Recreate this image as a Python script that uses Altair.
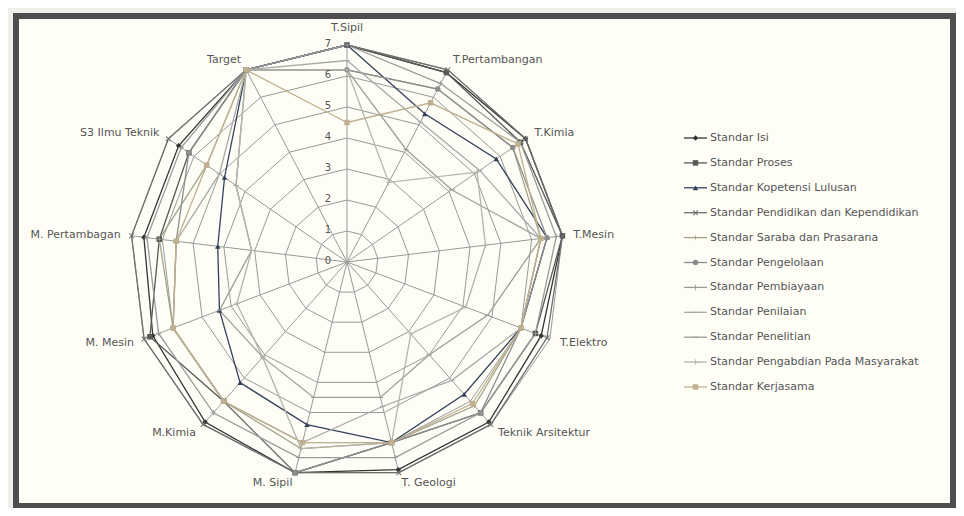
import altair as alt
import pandas as pd

# ---------------- data ----------------
categories = ["T.Sipil", "T.Pertambangan", "T.Kimia", "T.Mesin", "T.Elektro",
              "Teknik Arsitektur", "T. Geologi", "M. Sipil", "M.Kimia", "M. Mesin",
              "M. Pertambagan", "S3 Ilmu Teknik", "Target"]

series_names = ["Standar Isi", "Standar Proses", "Standar Kopetensi Lulusan",
                "Standar Pendidikan dan Kependidikan", "Standar Saraba dan Prasarana",
                "Standar Pengelolaan", "Standar Pembiayaan", "Standar Penilaian",
                "Standar Penelitian", "Standar Pengabdian Pada Masyarakat",
                "Standar Kerjasama"]

isi         = [7.0, 6.9, 7.0, 7.0, 6.7, 6.9, 6.9, 7.0, 6.9, 6.7, 6.6, 6.6, 7.0]
proses      = [7.0, 6.9, 6.8, 7.0, 6.5, 6.5, 6.0, 7.0, 6.0, 6.8, 6.1, 6.2, 7.0]
kompetensi  = [7.0, 5.4, 5.85, 6.5, 6.0, 5.7, 6.0, 5.4, 5.2, 4.4, 4.2, 4.8, 7.0]
pendidikan  = [7.0, 7.0, 7.0, 7.0, 6.9, 7.0, 7.0, 7.0, 7.0, 7.0, 7.0, 7.0, 7.0]
sarana      = [6.2, 6.3, 6.5, 6.3, 6.0, 6.2, 6.0, 6.2, 6.0, 6.0, 6.1, 5.5, 7.0]
pengelolaan = [6.2, 6.3, 6.5, 6.5, 6.0, 6.5, 6.0, 7.0, 6.0, 6.0, 5.55, 6.2, 7.0]
pembiayaan  = [7.0, 6.5, 6.8, 6.8, 6.5, 6.5, 6.5, 6.5, 6.5, 6.5, 6.5, 6.5, 7.0]
penilaian   = [6.5, 5.1, 5.2, 6.3, 6.0, 5.1, 4.8, 6.0, 6.0, 6.0, 5.55, 5.0, 7.0]
penelitian  = [6.2, 4.1, 4.1, 6.3, 4.85, 4.0, 4.5, 4.5, 4.1, 4.4, 3.1, 4.35, 7.0]
pengabdian  = [6.2, 2.9, 5.1, 4.5, 4.1, 3.1, 6.0, 6.2, 4.1, 3.8, 3.1, 4.35, 7.0]
kerjasama   = [4.5, 5.8, 6.7, 6.3, 6.0, 6.1, 6.0, 6.0, 6.0, 6.0, 5.55, 5.5, 7.0]

all_values = [isi, proses, kompetensi, pendidikan, sarana, pengelolaan,
              pembiayaan, penilaian, penelitian, pengabdian, kerjasama]

tick_values = [0, 1, 2, 3, 4, 5, 6, 7]

# ---------------- styles ----------------
colors = ["#333333", "#555a55", "#34415a", "#6e6e6e", "#a3a38a", "#8c8c8c",
          "#9a9a9a", "#a8a8a8", "#9e9e96", "#b4b4aa", "#c0b090"]
XPATH = "M-1,-0.75L-0.75,-1L0,-0.25L0.75,-1L1,-0.75L0.25,0L1,0.75L0.75,1L0,0.25L-0.75,1L-1,0.75L-0.25,0Z"
STAR = "M0,-1L0.22,-0.22L1,0L0.22,0.22L0,1L-0.22,0.22L-1,0L-0.22,-0.22Z"
PLUS = "M-0.15,-1L0.15,-1L0.15,-0.15L1,-0.15L1,0.15L0.15,0.15L0.15,1L-0.15,1L-0.15,0.15L-1,0.15L-1,-0.15L-0.15,-0.15Z"
DASH = "M-1,-0.18L1,-0.18L1,0.18L-1,0.18Z"
shapes = ["diamond", "square", "triangle-up", XPATH, STAR, "circle", PLUS, DASH,
          DASH, PLUS, "square"]

N = len(categories)
GRID = "#999999"
FONT = "DejaVu Sans"
TXT = "#555555"

# layout (pixels)
VIEW_W, VIEW_H = 937, 490
PX = 31.0                      # pixels per unit
CX, CY = 331, 246              # centre inside the view
XMIN, XMAX = -CX / PX, (VIEW_W - CX) / PX
YMAX, YMIN = CY / PX, -(VIEW_H - CY) / PX
VIEW_LEFT, VIEW_TOP = 16, 16   # page position of the view


def page_x(px):
    return XMIN + (px - VIEW_LEFT) / PX


def page_y(py):
    return YMAX - (py - VIEW_TOP) / PX


xs = alt.Scale(domain=[XMIN, XMAX], nice=False, zero=False)
ys = alt.Scale(domain=[YMIN, YMAX], nice=False, zero=False)
color_scale = alt.Scale(domain=series_names, range=colors)
shape_scale = alt.Scale(domain=series_names, range=shapes)

# ---------------- tables ----------------
rows = []
for s, (name, vals) in enumerate(zip(series_names, all_values)):
    for i in range(N + 1):
        rows.append({"series": name, "s": s, "i": i, "v": vals[i % N]})
df = pd.DataFrame(rows)

ring_df = pd.DataFrame([{"level": lv, "i": i} for lv in tick_values[1:] for i in range(N + 1)])
spoke_df = pd.DataFrame({"i": list(range(N)), "r": [max(tick_values)] * N})
label_df = pd.DataFrame({"i": list(range(N)), "name": categories})
tick_df = pd.DataFrame({"t": tick_values})
legend_df = pd.DataFrame({"series": series_names, "k": list(range(len(series_names)))})

ANG = "2 * PI * datum.i / 13"


def X(f):
    return alt.X(f, type="quantitative", scale=xs, axis=None)


def Y(f):
    return alt.Y(f, type="quantitative", scale=ys, axis=None)


rings = alt.Chart(ring_df).transform_calculate(
    px=f"datum.level * sin({ANG})", py=f"datum.level * cos({ANG})"
).mark_line(color=GRID, strokeWidth=1).encode(
    x=X("px"), y=Y("py"), detail="level:N", order="i:Q")

spokes = alt.Chart(spoke_df).transform_calculate(
    px=f"datum.r * sin({ANG})", py=f"datum.r * cos({ANG})", z="0"
).mark_rule(color=GRID, strokeWidth=1).encode(
    x=X("z"), y=Y("z"), x2="px:Q", y2="py:Q")

base = alt.Chart(df).transform_calculate(
    px=f"datum.v * sin({ANG})", py=f"datum.v * cos({ANG})")

lines = base.mark_line(strokeWidth=1.3).encode(
    x=X("px"), y=Y("py"),
    color=alt.Color("series:N", scale=color_scale, legend=None),
    detail="series:N", order="i:Q")

points = base.transform_filter("datum.i < 13").mark_point(
    filled=True, opacity=1, size=30).encode(
    x=X("px"), y=Y("py"),
    color=alt.Color("series:N", scale=color_scale, legend=None),
    shape=alt.Shape("series:N", scale=shape_scale, legend=None))

ticks = alt.Chart(tick_df).transform_calculate(z="0").mark_text(
    font=FONT, fontSize=10, color=TXT, dx=-19, dy=-1).encode(
    x=X("z"), y=Y("t"), text="t:Q")

LR = 7.35
lab_base = alt.Chart(label_df).transform_calculate(
    px=f"{LR} * sin({ANG})", py=f"{LR} * cos({ANG})", sn=f"sin({ANG})")


def lab(filt, align, baseline="middle", dy=0):
    return lab_base.transform_filter(filt).mark_text(
        font=FONT, fontSize=11, color=TXT, align=align, baseline=baseline, dy=dy
    ).encode(x=X("px"), y=Y("py"), text="name:N")


labels_r = lab("datum.sn > 0.05", "left")
labels_l = lab("datum.sn < -0.05", "right")
labels_c = lab("abs(datum.sn) <= 0.05", "center", "bottom", -1)

# ---------------- legend ----------------
LEG_Y0, LEG_STEP = 138, 24.9
leg = alt.Chart(legend_df).transform_calculate(
    ly=f"{page_y(LEG_Y0)} - datum.k * {LEG_STEP / PX}",
    lx1=f"{page_x(684)}", lx2=f"{page_x(707)}",
    lxm=f"{page_x(695.5)}", lxt=f"{page_x(708)}")
leg_line = leg.mark_rule(strokeWidth=1.3).encode(
    x=X("lx1"), x2="lx2:Q", y=Y("ly"),
    color=alt.Color("series:N", scale=color_scale, legend=None))
leg_pt = leg.mark_point(filled=True, opacity=1, size=30).encode(
    x=X("lxm"), y=Y("ly"),
    color=alt.Color("series:N", scale=color_scale, legend=None),
    shape=alt.Shape("series:N", scale=shape_scale, legend=None))
leg_txt = leg.mark_text(font=FONT, fontSize=11, color=TXT, align="left", dx=2).encode(
    x=X("lxt"), y=Y("ly"), text="series:N")

chart = alt.layer(
    rings, spokes, lines, points, ticks, labels_r, labels_l, labels_c,
    leg_line, leg_pt, leg_txt
).properties(
    width=VIEW_W, height=VIEW_H, autosize="none",
    padding={"left": 8, "top": 8, "right": 3, "bottom": 2},
    background="#efefea"
).configure_view(fill="#fefef7", stroke="#4e4e4e", strokeWidth=6)

chart.save("out.html", embed_options={"renderer": "svg", "actions": False})
